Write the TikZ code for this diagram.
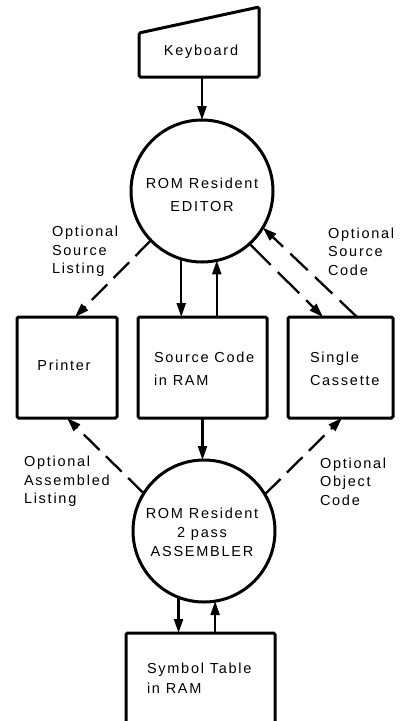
\documentclass[tikz,border=0pt]{standalone}
\usepackage{fontspec}
\setmainfont{Liberation Sans}[LetterSpace=12]
\usetikzlibrary{arrows.meta,calc}
\tikzset{
  boxline/.style={draw, line width=3pt, inner sep=0pt, outer sep=0pt},
  stor/.style={boxline, rectangle, rounded corners=1.5pt, minimum height=101pt},
  proc/.style={boxline, circle, minimum size=142pt},
  txt/.style={inner sep=0pt, outer sep=0pt, align=left, font=\fontsize{14.5}{23}\selectfont},
  lbl/.style={inner sep=0pt, outer sep=0pt, align=left, anchor=west, font=\fontsize{14.5}{18.5}\selectfont},
  flow/.style={line width=2.3pt, -{Triangle[length=14pt,width=9pt]}},
  opt/.style={flow, dash pattern=on 22pt off 9pt},
}
\begin{document}
\begin{tikzpicture}[x=1pt,y=-1pt]
\useasboundingbox (0,0) rectangle (401,721);
\clip (0,0) rectangle (401,721);
% keyboard
\coordinate (k1) at (139,77);
\coordinate (k2) at (139,33);
\coordinate (k3) at (259,7);
\coordinate (k4) at (259,77);
\draw[line width=3pt, rounded corners=1.5pt] (k1) -- (k2) -- (k3) -- (k4) -- cycle;
\node[txt] (kb) at (201,52) {Keyboard};
\coordinate (kbb) at (202,77);
% editor
\node[proc] (ed) at (202,191) {};
\node[txt, align=center] (edt) at (202,194.5) {ROM Resident\\EDITOR};
% boxes
\node[stor, minimum width=100pt] (pr) at (67,367.5) {};
\node[txt] (prt) at (64,365) {Printer};
\node[stor, minimum width=129pt] (src) at (202.5,367.5) {};
\node[txt, anchor=west] (srct) at (154,368.5) {Source Code\\in RAM};
\node[stor, minimum width=105pt] (cas) at (340.5,367.5) {};
\node[txt, anchor=west] (cast) at (310,368.5) {Single\\Cassette};
% assembler
\node[proc] (as) at (204,531) {};
\node[txt, align=center, font=\fontsize{14.5}{19}\selectfont] (ast) at (202,532) {ROM Resident\\2 pass\\ASSEMBLER};
% symbol table
\node[stor, minimum width=149pt] (sym) at (200.5,683.5) {};
\node[txt, anchor=west, font=\fontsize{14.5}{20}\selectfont] (symt) at (147,678) {Symbol Table\\in RAM};
% labels
\node[lbl] (l1) at (52,251.5) {Optional\\Source\\Listing};
\node[lbl] (l2) at (328,251.5) {Optional\\Source\\Code};
\node[lbl] (l3) at (24,481.5) {Optional\\Assembled\\Listing};
\node[lbl] (l4) at (320,481.5) {Optional\\Object\\Code};
% connectors
\draw[flow] (kbb) -- (ed.north);
\draw[flow] (ed.253.6) -- (ed.253.6 |- src.north);
\draw[flow] (ed.282.2 |- src.north) -- (ed.282.2);
\draw[opt] (ed.224) -- ([xshift=8pt]pr.north);
\draw[opt, dash pattern=on 30pt off 10pt] (ed.312) -- ([xshift=-17.5pt]cas.north);
\draw[opt, dash pattern=on 24pt off 10pt] ([xshift=16.5pt]cas.north) -- (ed.329);
\draw[flow] (src.south) -- (src.south |- as.north);
\draw[opt] (as.148) -- (pr.south);
\draw[opt] (as.31) -- ([xshift=1.5pt]cas.south);
\draw[flow] (as.249.4) -- (as.249.4 |- sym.north);
\draw[flow] (as.279.7 |- sym.north) -- (as.279.7);
\end{tikzpicture}
\end{document}
